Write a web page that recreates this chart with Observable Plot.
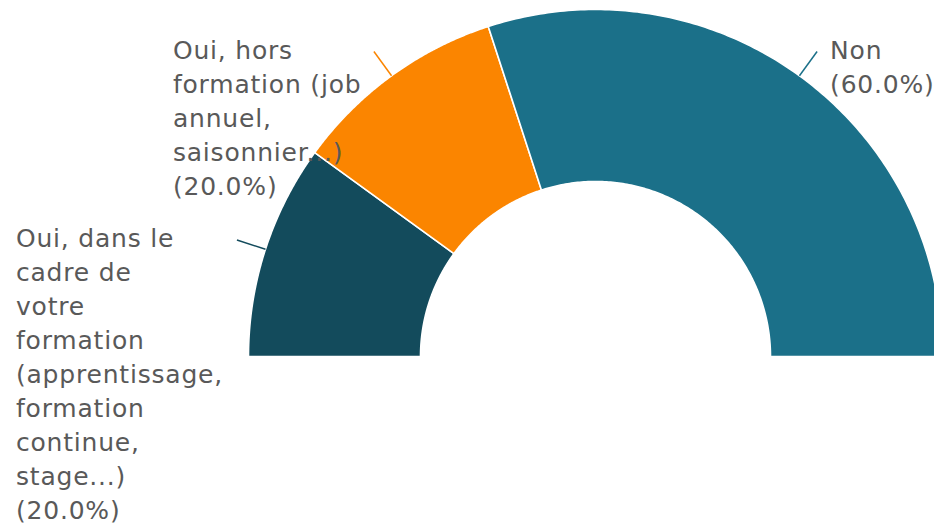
<!DOCTYPE html>
<html>
<head>
<meta charset="utf-8">
<script src="https://cdn.jsdelivr.net/npm/d3@7"></script>
<script src="https://cdn.jsdelivr.net/npm/@observablehq/plot@0.6"></script>
<style>
  html, body { margin: 0; padding: 0; background: #ffffff; overflow: hidden; }
  svg text { letter-spacing: 0.8px; }
</style>
</head>
<body>
<div id="chart"></div>
<script>
// ---- data ----
const categories = [
  "Oui, dans le cadre de votre formation (apprentissage, formation continue, stage...)",
  "Oui, hors formation (job annuel, saisonnier...)",
  "Non"
];
const values = [20, 20, 60];
const labelLines = [
  "Oui, dans le\ncadre de\nvotre\nformation\n(apprentissage,\nformation\ncontinue,\nstage...)",
  "Oui, hors\nformation (job\nannuel,\nsaisonnier...)",
  "Non"
];
const colors = ["#134B5C", "#FB8500", "#1B7089"];

// ---- layout ----
const W = 934, H = 528;
const cx = 595, cy = 356, R = 347, rIn = 175;
const inner = rIn / R;
const leaderLen = 30 / R;
const labelDx = [-221, -201, 13];
const labelDy = -17;
const fontSize = 25;

// ---- geometry built from the values ----
const total = d3.sum(values);
let acc = 0;
const wedgePts = [];
const leaders = [];
const labels = [];
values.forEach((v, i) => {
  const cat = categories[i];
  const a0 = Math.PI * (1 - acc / total);
  acc += v;
  const a1 = Math.PI * (1 - acc / total);
  const n = 160;
  for (let k = 0; k <= n; k++) {
    const a = a0 + (a1 - a0) * k / n;
    wedgePts.push({cat, x: Math.cos(a), y: Math.sin(a)});
  }
  for (let k = n; k >= 0; k--) {
    const a = a0 + (a1 - a0) * k / n;
    wedgePts.push({cat, x: inner * Math.cos(a), y: inner * Math.sin(a)});
  }
  wedgePts.push({cat, x: Math.cos(a0), y: Math.sin(a0)});
  const am = (a0 + a1) / 2;
  leaders.push({cat, x1: Math.cos(am), y1: Math.sin(am),
    x2: (1 + leaderLen) * Math.cos(am), y2: (1 + leaderLen) * Math.sin(am)});
  labels.push({cat, i, x: (1 + leaderLen) * Math.cos(am), y: (1 + leaderLen) * Math.sin(am),
    text: labelLines[i] + "\n(" + (v / total * 100).toFixed(1) + "%)"});
});

const chart = Plot.plot({
  width: W,
  height: H,
  margin: 0,
  style: {background: "#ffffff", fontFamily: "'DejaVu Sans', sans-serif"},
  x: {domain: [(0 - cx) / R, (W - cx) / R], range: [0, W], axis: null},
  y: {domain: [(cy - H) / R, cy / R], range: [H, 0], axis: null},
  color: {domain: categories, range: colors},
  marks: [
    Plot.line(wedgePts, {x: "x", y: "y", z: "cat", fill: "cat", stroke: "#ffffff",
      strokeWidth: 1.6, strokeLinejoin: "miter", curve: "linear", clip: true}),
    ...leaders.map((d, i) => Plot.link([d], {x1: "x1", y1: "y1", x2: "x2", y2: "y2",
      stroke: colors[i], strokeWidth: 1.5})),
    ...labels.map((d, i) => Plot.text([d], {x: "x", y: "y", text: "text",
      textAnchor: "start", lineAnchor: "top", dx: labelDx[i], dy: labelDy,
      fontSize: fontSize, lineHeight: 34 / fontSize, fill: "#595959"}))
  ]
});
document.getElementById("chart").appendChild(chart);
</script>
</body>
</html>
